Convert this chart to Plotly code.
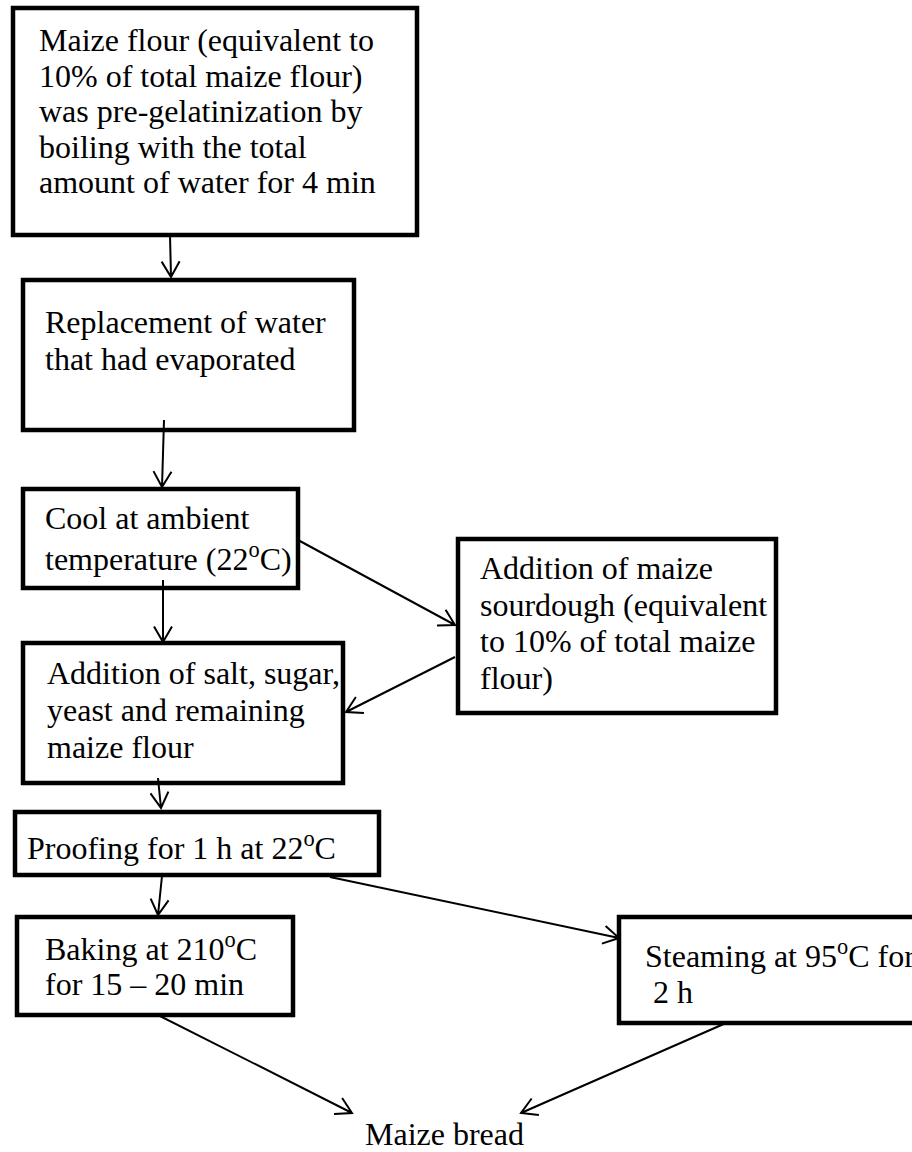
import math
import plotly.graph_objects as go

W, H = 912, 1152

# ---- flowchart content (text) ----
step_labels = [
    ["Maize flour (equivalent to", "10% of total maize flour)", "was pre-gelatinization by",
     "boiling with the total", "amount of water for 4 min"],
    ["Replacement of water", "that had evaporated"],
    ["Cool at ambient", "temperature (22<sup>o</sup>C)"],
    ["Addition of maize", "sourdough (equivalent", "to 10% of total maize", "flour)"],
    ["Addition of salt, sugar,", "yeast and remaining", "maize flour"],
    ["Proofing for 1 h at 22<sup>o</sup>C"],
    ["Baking at 210<sup>o</sup>C", "for 15 \u2013 20 min"],
    ["Steaming at 95<sup>o</sup>C for", "\u00a02 h"],
    ["Maize bread"],
]
has_box = [True, True, True, True, True, True, True, True, False]

# edges: (from step index, to step index)
edges = [(0, 1), (1, 2), (2, 3), (3, 4), (2, 4), (4, 5), (5, 6), (5, 7), (6, 8), (7, 8)]

# ---- layout geometry (pixels, y downward) ----
box_x0 = [13, 23, 23, 458, 23, 15, 17, 619, None]
box_y0 = [8, 280, 489, 539, 643, 812, 917, 917, None]
box_x1 = [417, 354, 298, 776, 343, 379, 293, 945, None]
box_y1 = [235, 430, 588, 713, 783, 875, 1015, 1023, None]
text_x = [37, 43, 43, 478, 45, 25, 43, 643, 363]
text_first_y = [40, 322, 518, 568, 673, 846, 947, 954, 1134]
text_gap = [35.5, 37, 39, 36.5, 37, 0, 37, 38, 0]

edge_start = [(170, 235), (164, 420), (298, 540), (455, 657), (163, 580),
              (158, 778), (162, 876), (330, 877), (160, 1016), (726, 1023)]
edge_end = [(171, 277), (162, 487), (455, 625), (346, 712), (163, 642),
            (161, 808), (158, 915), (619, 938), (352, 1113), (521, 1113)]

FONT = "Liberation Serif, Times New Roman, serif"
FS = 32
HEAD_LEN = 18
HEAD_ANG = math.radians(30)

fig = go.Figure()
fig.add_trace(go.Scatter(x=[0, W], y=[0, H], mode="markers",
                         marker=dict(opacity=0), hoverinfo="skip", showlegend=False))

shapes = []
for i, hb in enumerate(has_box):
    if hb:
        shapes.append(dict(type="rect", xref="x", yref="y",
                           x0=box_x0[i], y0=box_y0[i], x1=box_x1[i], y1=box_y1[i],
                           line=dict(color="black", width=4.5), fillcolor="white", layer="below"))

for (sx, sy), (ex, ey) in zip(edge_start, edge_end):
    ang = math.atan2(ey - sy, ex - sx)
    h1 = (ex - HEAD_LEN * math.cos(ang - HEAD_ANG), ey - HEAD_LEN * math.sin(ang - HEAD_ANG))
    h2 = (ex - HEAD_LEN * math.cos(ang + HEAD_ANG), ey - HEAD_LEN * math.sin(ang + HEAD_ANG))
    path = (f"M {sx},{sy} L {ex},{ey} "
            f"M {h1[0]:.2f},{h1[1]:.2f} L {ex},{ey} L {h2[0]:.2f},{h2[1]:.2f}")
    shapes.append(dict(type="path", xref="x", yref="y", path=path,
                       line=dict(color="black", width=2)))

annotations = []
for i, lines in enumerate(step_labels):
    for j, line in enumerate(lines):
        annotations.append(dict(x=text_x[i], y=text_first_y[i] + j * text_gap[i],
                                xref="x", yref="y", text=line, showarrow=False,
                                xanchor="left", yanchor="middle",
                                font=dict(family=FONT, size=FS, color="black")))

fig.update_layout(
    width=W, height=H,
    margin=dict(l=0, r=0, t=0, b=0),
    paper_bgcolor="white", plot_bgcolor="white",
    xaxis=dict(range=[0, W], visible=False, fixedrange=True),
    yaxis=dict(range=[H, 0], visible=False, fixedrange=True),
    shapes=shapes, annotations=annotations, showlegend=False,
)

fig.write_html("out.html", config={"displayModeBar": False},
               post_script="document.body.style.margin='0';document.body.style.overflow='hidden';")
